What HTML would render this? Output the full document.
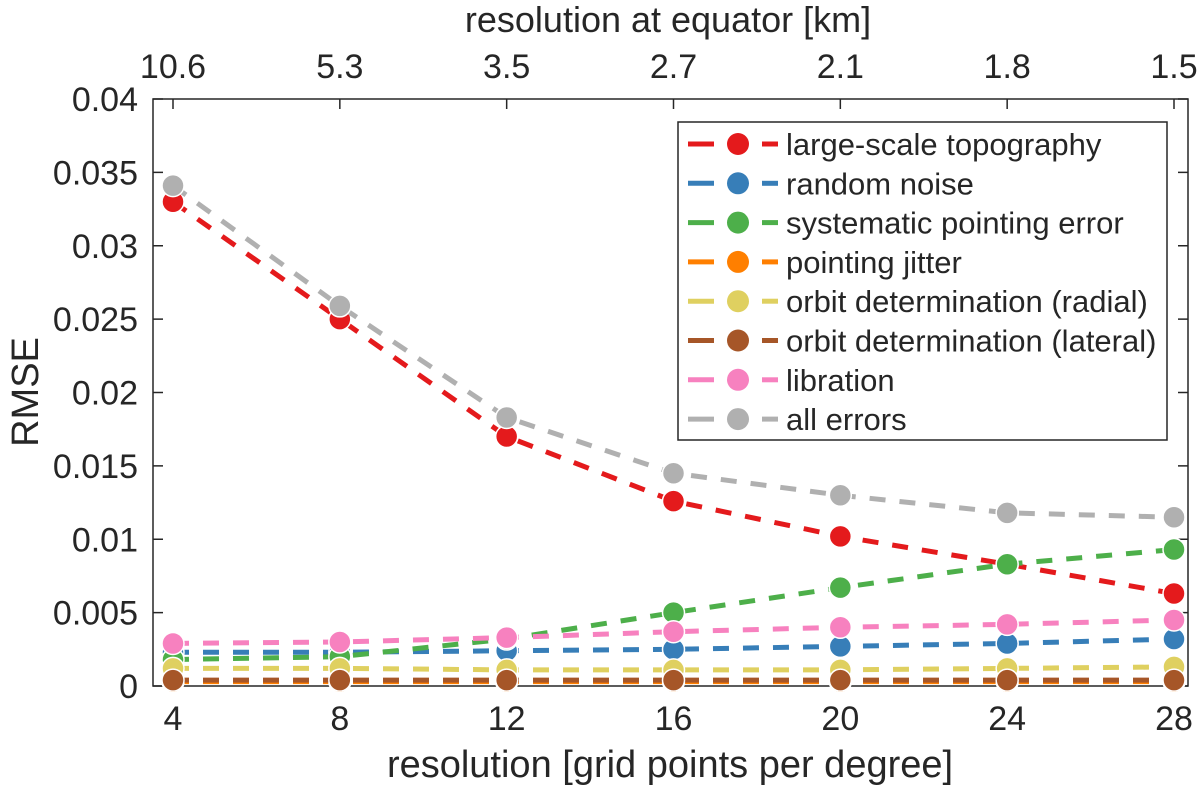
<!DOCTYPE html>
<html><head><meta charset="utf-8"><style>
body{margin:0;background:#fff}
text{font-family:"Liberation Sans",Arial,sans-serif;fill:#262626}
</style></head><body>
<svg id="chart" width="1200" height="794" xmlns="http://www.w3.org/2000/svg">
<g id="axes"></g>
<g id="plot"></g>
<g id="legend"></g>
</svg>
<script>
const xs = [4, 8, 12, 16, 20, 24, 28];
const topLabels = ["10.6", "5.3", "3.5", "2.7", "2.1", "1.8", "1.5"];
const yTicks = [0, 0.005, 0.01, 0.015, 0.02, 0.025, 0.03, 0.035, 0.04];
const yTickLabels = ["0", "0.005", "0.01", "0.015", "0.02", "0.025", "0.03", "0.035", "0.04"];
const seriesNames = ["large-scale topography","random noise","systematic pointing error","pointing jitter","orbit determination (radial)","orbit determination (lateral)","libration","all errors"];
const seriesColors = ["#e41a1c","#377eb8","#4daf4a","#ff7f00","#dfd060","#a65628","#f781bf","#b0b0b0"];
const topo = [0.0330, 0.0250, 0.0170, 0.0126, 0.0102, 0.0083, 0.0063];
const noise = [0.0023, 0.0023, 0.0024, 0.0025, 0.0027, 0.0029, 0.0032];
const sysPoint = [0.0018, 0.0020, 0.0032, 0.0050, 0.0067, 0.0083, 0.0093];
const jitter = [0.0003, 0.0003, 0.0003, 0.0003, 0.0003, 0.0003, 0.0003];
const orbitRad = [0.0012, 0.0012, 0.0011, 0.0011, 0.0011, 0.0012, 0.0013];
const orbitLat = [0.0004, 0.0004, 0.0004, 0.0004, 0.0004, 0.0004, 0.0004];
const libration = [0.0029, 0.0030, 0.0033, 0.0037, 0.0040, 0.0042, 0.0045];
const allErr = [0.0341, 0.0259, 0.0183, 0.0145, 0.0130, 0.0118, 0.0115];
const seriesData = [topo, noise, sysPoint, jitter, orbitRad, orbitLat, libration, allErr];

const L=153,R=1188,T=99,B=686;
const xS=v=>173+(v-4)*(1174-173)/24;
const yS=v=>B-(v/0.04)*(B-T);
const NS="http://www.w3.org/2000/svg";
function mk(tag,attrs,parent){const e=document.createElementNS(NS,tag);for(const k in attrs)e.setAttribute(k,attrs[k]);parent.appendChild(e);return e;}
const plot=document.getElementById('plot'),axes=document.getElementById('axes'),leg=document.getElementById('legend');
const slugs=["topography","noise","systematic-pointing","jitter","orbit-radial","orbit-lateral","libration","all-errors"];
const fr=mk('rect',{x:L,y:T,width:R-L,height:B-T,fill:'none',stroke:'#262626','stroke-width':1.5},axes);


yTicks.forEach((v,i)=>{
  const y=yS(v);
  mk('line',{x1:L,x2:L+10,y1:y,y2:y,stroke:'#262626','stroke-width':1.5},axes);
  mk('line',{x1:R,x2:R-10,y1:y,y2:y,stroke:'#262626','stroke-width':1.5},axes);
  const t=mk('text',{x:138,y:y+12,'text-anchor':'end','font-size':34},axes);
  t.textContent=yTickLabels[i];
  
  
});
xs.forEach((v,i)=>{
  const x=xS(v);
  mk('line',{x1:x,x2:x,y1:B,y2:B-10,stroke:'#262626','stroke-width':1.5},axes);
  mk('line',{x1:x,x2:x,y1:T,y2:T+10,stroke:'#262626','stroke-width':1.5},axes);
  const t=mk('text',{x:x,y:730,'text-anchor':'middle','font-size':34},axes);
  t.textContent=String(v);
  
  
  const t2=mk('text',{x:x,y:78,'text-anchor':'middle','font-size':34},axes);
  t2.textContent=topLabels[i];
  
  
});
const xt=mk('text',{x:670,y:777,'text-anchor':'middle','font-size':38},axes);
xt.textContent='resolution [grid points per degree]';


const tt=mk('text',{x:668,y:32,'text-anchor':'middle','font-size':36},axes);
tt.textContent='resolution at equator [km]';


const yt=mk('text',{x:0,y:0,'text-anchor':'middle','font-size':38,transform:'translate(38,392) rotate(-90)'},axes);
yt.textContent='RMSE';



seriesData.forEach((d,i)=>{
  const g=mk('g',{},plot);
  
  
  const pts=d.map((v,j)=>xS(xs[j])+','+yS(v)).join(' ');
  const pl=mk('polyline',{points:pts,fill:'none',stroke:seriesColors[i],'stroke-width':5,'stroke-dasharray':'16 14'},g);
  
  
  d.forEach((v,j)=>{
    const c=mk('circle',{cx:xS(xs[j]),cy:yS(v),r:11,fill:seriesColors[i],stroke:'#fff','stroke-width':1.5},g);
    
    
  });
});
const lb=mk('rect',{x:678,y:122,width:489,height:318,fill:'#fff',stroke:'#262626','stroke-width':1.5},leg);


seriesNames.forEach((n,i)=>{
  const y=144+i*39.3;
  const g=mk('g',{},leg);
  
  
  mk('line',{x1:688,x2:714,y1:y,y2:y,stroke:seriesColors[i],'stroke-width':5},g);
  mk('line',{x1:762,x2:778,y1:y,y2:y,stroke:seriesColors[i],'stroke-width':5},g);
  mk('circle',{cx:738,cy:y,r:11,fill:seriesColors[i]},g);
  const t=mk('text',{x:786,y:y+11,'font-size':31},g);
  t.textContent=n;
});
</script>
</body></html>
